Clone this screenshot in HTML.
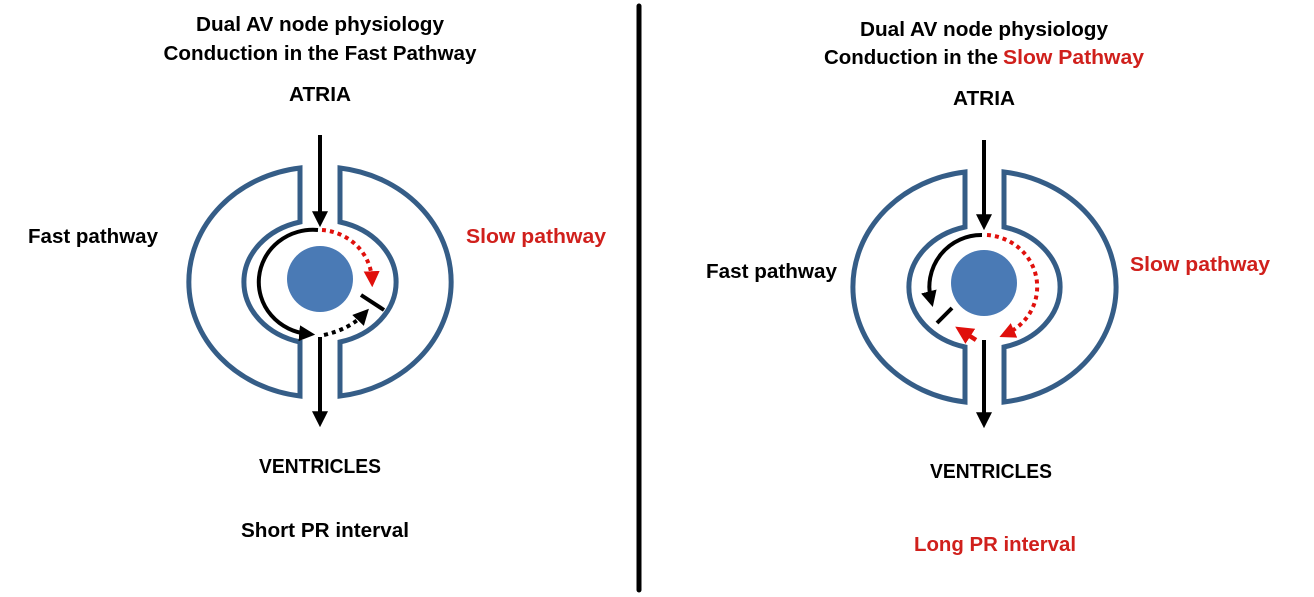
<!DOCTYPE html>
<html><head><style>
html,body{margin:0;padding:0;background:#fff;}
svg{display:block;}
text{font-family:"Liberation Sans",sans-serif;font-weight:bold;font-size:20px;fill:#000;}
.r{fill:#d0201c;}
</style></head><body>
<svg width="1314" height="597" viewBox="0 0 1314 597" xmlns="http://www.w3.org/2000/svg">
<defs>
<marker id="ab" markerWidth="4" markerHeight="4" refX="2.2" refY="2" orient="auto" markerUnits="strokeWidth"><path d="M0,0 L4,2 L0,4 z" fill="#000"/></marker>
<marker id="ar" markerWidth="4" markerHeight="4" refX="2.2" refY="2" orient="auto" markerUnits="strokeWidth"><path d="M0,0 L4,2 L0,4 z" fill="#e0100c"/></marker>
</defs>
<line x1="639" y1="6" x2="639" y2="590" stroke="#000" stroke-width="5" stroke-linecap="round"/>

<text x="320" y="31" text-anchor="middle" textLength="248" lengthAdjust="spacingAndGlyphs">Dual AV node physiology</text>
<text x="320" y="60" text-anchor="middle" textLength="313" lengthAdjust="spacingAndGlyphs">Conduction in the Fast Pathway</text>
<text x="320" y="101" text-anchor="middle" textLength="62" lengthAdjust="spacingAndGlyphs">ATRIA</text>
<text x="28" y="243" textLength="130" lengthAdjust="spacingAndGlyphs">Fast pathway</text>
<text x="466" y="243" class="r" textLength="140" lengthAdjust="spacingAndGlyphs">Slow pathway</text>
<text x="320" y="473" text-anchor="middle" textLength="122" lengthAdjust="spacingAndGlyphs">VENTRICLES</text>
<text x="325" y="537" text-anchor="middle" textLength="168" lengthAdjust="spacingAndGlyphs">Short PR interval</text>

<g fill="none" stroke="#355d87" stroke-width="5">
<path d="M300,168 A128,115 0 0 0 300,396 L300,342 A75,62 0 0 1 300,222 Z"/>
<path d="M340,168 A128,115 0 0 1 340,396 L340,342 A75,62 0 0 0 340,222 Z"/>
</g>
<circle cx="320" cy="279" r="33" fill="#4a7ab5"/>
<line x1="320" y1="135" x2="320" y2="220" stroke="#000" stroke-width="4" marker-end="url(#ab)"/>
<line x1="320" y1="337" x2="320" y2="420" stroke="#000" stroke-width="4" marker-end="url(#ab)"/>
<path d="M318,230 A54,52 0 0 0 308,334" fill="none" stroke="#000" stroke-width="4" marker-end="url(#ab)"/>
<path d="M322,230 A54,52 0 0 1 372,280" fill="none" stroke="#e0100c" stroke-width="4" stroke-dasharray="4,4" marker-end="url(#ar)"/>
<path d="M324,335 Q350,329 364,314" fill="none" stroke="#000" stroke-width="4" stroke-dasharray="4,4" marker-end="url(#ab)"/>
<line x1="361" y1="295" x2="384" y2="310" stroke="#000" stroke-width="4"/>

<text x="984" y="36" text-anchor="middle" textLength="248" lengthAdjust="spacingAndGlyphs">Dual AV node physiology</text>
<text x="824" y="64" textLength="174" lengthAdjust="spacingAndGlyphs">Conduction in the</text>
<text x="1003" y="64" class="r" textLength="141" lengthAdjust="spacingAndGlyphs">Slow Pathway</text>
<text x="984" y="105" text-anchor="middle" textLength="62" lengthAdjust="spacingAndGlyphs">ATRIA</text>
<text x="706" y="278" textLength="131" lengthAdjust="spacingAndGlyphs">Fast pathway</text>
<text x="1130" y="271" class="r" textLength="140" lengthAdjust="spacingAndGlyphs">Slow pathway</text>
<text x="991" y="478" text-anchor="middle" textLength="122" lengthAdjust="spacingAndGlyphs">VENTRICLES</text>
<text x="995" y="551" class="r" text-anchor="middle" textLength="162" lengthAdjust="spacingAndGlyphs">Long PR interval</text>

<g fill="none" stroke="#355d87" stroke-width="5">
<path d="M965,172 A129,116 0 0 0 965,402 L965,347 A75,62 0 0 1 965,227 Z"/>
<path d="M1004,172 A129,116 0 0 1 1004,402 L1004,347 A75,62 0 0 0 1004,227 Z"/>
</g>
<circle cx="984" cy="283" r="33" fill="#4a7ab5"/>
<line x1="984" y1="140" x2="984" y2="223" stroke="#000" stroke-width="4" marker-end="url(#ab)"/>
<line x1="984" y1="340" x2="984" y2="421" stroke="#000" stroke-width="4" marker-end="url(#ab)"/>
<path d="M982,235 A52,52 0 0 0 931,300" fill="none" stroke="#000" stroke-width="4" marker-end="url(#ab)"/>
<line x1="937" y1="323" x2="952" y2="308" stroke="#000" stroke-width="4"/>
<path d="M987,235 A54,52 0 0 1 1006,334" fill="none" stroke="#e0100c" stroke-width="4" stroke-dasharray="4,4" marker-end="url(#ar)"/>
<line x1="976" y1="340" x2="962" y2="331" stroke="#e0100c" stroke-width="4.5" marker-end="url(#ar)"/>
</svg>
</body></html>
